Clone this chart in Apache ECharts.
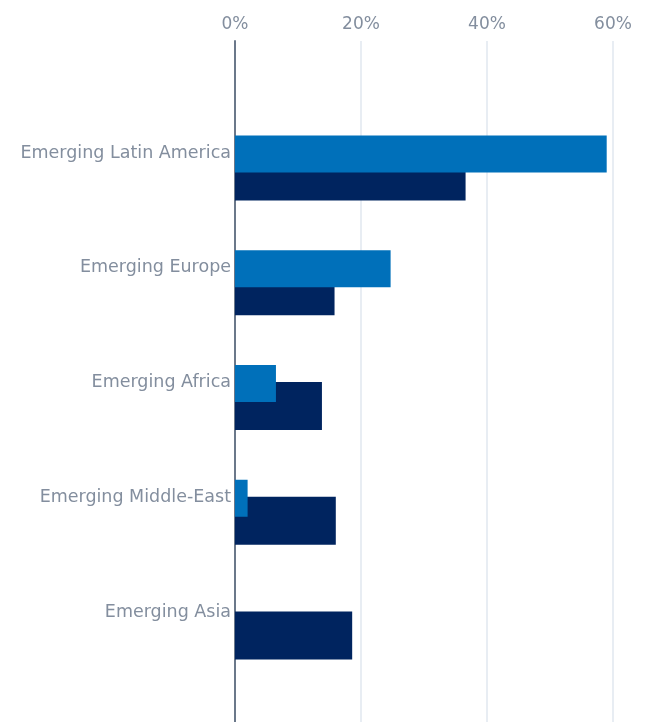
<!DOCTYPE html>
<html>
<head>
<meta charset="utf-8">
<script src="https://cdn.jsdelivr.net/npm/echarts@6/dist/echarts.min.js"></script>
<style>
html,body{margin:0;padding:0;background:#fff;}
#chart{width:645px;height:722px;}
</style>
</head>
<body>
<div id="chart"></div>
<script>
const categories = ['Emerging Latin America', 'Emerging Europe', 'Emerging Africa', 'Emerging Middle-East', 'Emerging Asia'];
const lightSeries = [59.0, 24.7, 6.5, 2.0, 0];
const darkSeries = [36.6, 15.8, 13.8, 16.0, 18.6];
const xTicks = [0, 20, 40, 60];

const textColor = '#838e9e';
const fontFamily = '"DejaVu Sans", sans-serif';

const chart = echarts.init(document.getElementById('chart'), null, {renderer: 'canvas'});
chart.setOption({
  animation: false,
  grid: [
    {left: 235, right: 32, top: 41, bottom: 0},
    {left: 235, right: 32, top: 110.6, bottom: 37.6}
  ],
  xAxis: [
    {
      gridIndex: 0, type: 'value', position: 'top',
      min: xTicks[0], max: xTicks[xTicks.length - 1], interval: 20,
      axisLine: {show: false}, axisTick: {show: false},
      axisLabel: {formatter: '{value}%', color: textColor, fontSize: 17, fontFamily: fontFamily, margin: 8},
      splitLine: {show: true, lineStyle: {color: '#e1e7ef', width: 1.5}}
    },
    {
      gridIndex: 1, type: 'value', min: 0, max: 60, show: false
    }
  ],
  yAxis: [
    {
      gridIndex: 0, type: 'value', min: 0, max: 1,
      axisLine: {show: true, lineStyle: {color: '#6b788a', width: 2}},
      axisTick: {show: false}, axisLabel: {show: false}, splitLine: {show: false}
    },
    {
      gridIndex: 1, type: 'category', data: categories, inverse: true,
      axisLine: {show: false}, axisTick: {show: false}, splitLine: {show: false},
      axisLabel: {color: textColor, fontSize: 17.5, fontFamily: fontFamily, margin: 4,
        verticalAlign: 'bottom', lineHeight: 30}
    }
  ],
  series: [
    {
      type: 'bar', xAxisIndex: 1, yAxisIndex: 1, data: lightSeries,
      barWidth: 37, barGap: '-54%', z: 3,
      itemStyle: {color: '#0070ba'}
    },
    {
      type: 'bar', xAxisIndex: 1, yAxisIndex: 1, data: darkSeries,
      barWidth: 48, z: 2,
      itemStyle: {color: '#00245f'}
    }
  ]
});
</script>
</body>
</html>
